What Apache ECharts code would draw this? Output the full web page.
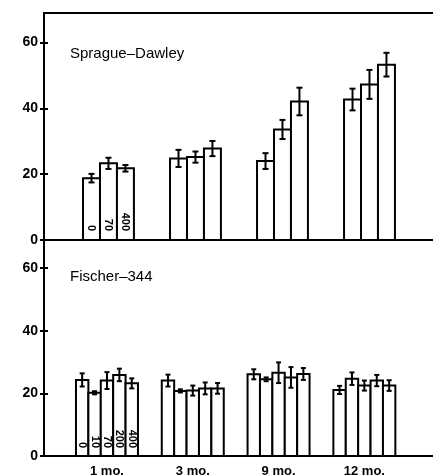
<!DOCTYPE html>
<html>
<head>
<meta charset="utf-8">
<script src="https://cdn.jsdelivr.net/npm/echarts@6/dist/echarts.min.js"></script>
<style>
	html, body { margin: 0; padding: 0; background: #fff; }
	#chart { width: 433px; height: 476px; }
</style>
</head>
<body>
<div id="chart"></div>
<script>
var months = ["1 mo.", "3 mo.", "9 mo.", "12 mo."];
var yTicks = [0, 20, 40, 60];

// Sprague-Dawley, doses 0 / 70 / 400
var sdDoses = ["0", "70", "400"];
var sdMeans = [
	[18.8, 23.3, 21.8],
	[24.8, 25.2, 27.8],
	[24.0, 33.6, 42.1],
	[42.7, 47.3, 53.3]
];
var sdErrors = [
	[1.3, 1.7, 1.0],
	[2.6, 1.7, 2.3],
	[2.4, 2.9, 4.2],
	[3.3, 4.4, 3.6]
];

// Fischer-344, doses 0 / 10 / 70 / 200 / 400
var fDoses = ["0", "10", "70", "200", "400"];
var fMeans = [
	[24.3, 20.2, 24.1, 25.9, 23.2],
	[24.1, 20.8, 20.9, 21.6, 21.6],
	[26.1, 24.5, 26.6, 25.1, 26.2],
	[21.1, 24.7, 22.5, 24.1, 22.5]
];
var fErrors = [
	[2.1, 0.5, 2.7, 2.0, 1.6],
	[1.9, 0.5, 1.6, 1.9, 1.7],
	[1.6, 0.6, 3.3, 3.3, 1.9],
	[1.3, 2.0, 1.6, 1.8, 1.7]
];

var FONT = "'Liberation Sans', Arial, sans-serif";

function toRows(means, errors) {
	var rows = [];
	for (var g = 0; g < means.length; g++) {
		for (var i = 0; i < means[g].length; i++) {
			rows.push([g + 1, i, means[g][i], errors[g][i]]);
		}
	}
	return rows;
}

function barRenderer(barW, doses, capPx, labelLift) {
	var n = doses.length;
	return function (params, api) {
		var g = api.value(0);
		var i = api.value(1);
		var v = api.value(2);
		var e = api.value(3);
		var cx = g + (i - (n - 1) / 2) * barW;

		var base = api.coord([cx - barW / 2, 0]);
		var topRight = api.coord([cx + barW / 2, v]);
		var mid = api.coord([cx, v]);
		var hi = api.coord([cx, v + e]);
		var lo = api.coord([cx, v - e]);

		var children = [
			{
				type: "rect",
				shape: { x: base[0], y: topRight[1], width: topRight[0] - base[0], height: base[1] - topRight[1] },
				style: { fill: "#fff", stroke: "#000", lineWidth: 2 }
			},
			{
				type: "line",
				shape: { x1: mid[0], y1: hi[1], x2: mid[0], y2: lo[1] },
				style: { stroke: "#000", lineWidth: 2 }
			},
			{
				type: "line",
				shape: { x1: mid[0] - capPx, y1: hi[1], x2: mid[0] + capPx, y2: hi[1] },
				style: { stroke: "#000", lineWidth: 2 }
			},
			{
				type: "line",
				shape: { x1: mid[0] - capPx, y1: lo[1], x2: mid[0] + capPx, y2: lo[1] },
				style: { stroke: "#000", lineWidth: 2 }
			}
		];

		// dose labels only inside the first group
		if (g == 1) {
			children.push({
				type: "text",
				x: mid[0],
				y: base[1] - labelLift,
				rotation: -Math.PI / 2,
				style: {
					text: doses[i],
					fontFamily: FONT,
					fontSize: 11,
					fontWeight: "bold",
					fill: "#000",
					align: "right",
					verticalAlign: "middle"
				}
			});
		}
		return { type: "group", children: children };
	};
}

var chart = echarts.init(document.getElementById("chart"));

var lineStyle = { color: "#000", width: 2 };

// y axis pair per grid: one with outward ticks and labels, one with inward ticks
function yAxisPair(gridIndex) {
	return [
		{
			gridIndex: gridIndex, type: "value", position: "left", min: 0, max: 69,
			axisLine: { onZero: false, lineStyle: lineStyle },
			axisTick: { customValues: yTicks, length: 4, lineStyle: lineStyle },
			axisLabel: { customValues: yTicks, margin: 6, fontFamily: FONT, fontSize: 14, fontWeight: "bold", color: "#000" },
			splitLine: { show: false }
		},
		{
			gridIndex: gridIndex, type: "value", position: "left", min: 0, max: 69,
			axisLine: { show: true, onZero: false, lineStyle: lineStyle },
			axisTick: { show: true, customValues: yTicks, inside: true, length: 4, lineStyle: lineStyle },
			axisLabel: { show: false },
			splitLine: { show: false }
		}
	];
}

var option = {
	animation: false,
	backgroundColor: "#fff",
	title: [
		{
			text: "Sprague–Dawley",
			left: 65, top: 41,
			textStyle: { fontFamily: FONT, fontSize: 15, fontWeight: "normal", color: "#000" }
		},
		{
			text: "Fischer–344",
			left: 65, top: 264,
			textStyle: { fontFamily: FONT, fontSize: 15, fontWeight: "normal", color: "#000" }
		}
	],
	grid: [
		{ left: 44, top: 13, right: 0, height: 227, outerBoundsMode: "none" },
		{ left: 44, top: 240, right: 0, height: 216, outerBoundsMode: "none" }
	],
	xAxis: [
		{
			gridIndex: 0, type: "value", min: 0.259, max: 4.73,
			axisLine: { onZero: false, lineStyle: lineStyle }, axisTick: { show: false },
			axisLabel: { show: false }, splitLine: { show: false }
		},
		{
			gridIndex: 0, type: "value", position: "top", min: 0.259, max: 4.73,
			axisLine: { onZero: false, lineStyle: lineStyle }, axisTick: { show: false },
			axisLabel: { show: false }, splitLine: { show: false }
		},
		{
			gridIndex: 1, type: "value", min: 0.266, max: 4.80,
			axisLine: { onZero: false, lineStyle: lineStyle }, axisTick: { show: false },
			axisLabel: {
				customValues: [1, 2, 3, 4],
				formatter: function (v) {
					return months[Math.round(v) - 1];
				},
				margin: 9,
				fontFamily: FONT, fontSize: 13, fontWeight: "bold", color: "#000"
			},
			splitLine: { show: false }
		}
	],
	yAxis: yAxisPair(0).concat(yAxisPair(1)),
	series: [
		{
			type: "custom",
			xAxisIndex: 0,
			yAxisIndex: 0,
			renderItem: barRenderer(0.195, sdDoses, 3, 9),
			data: toRows(sdMeans, sdErrors)
		},
		{
			type: "custom",
			xAxisIndex: 2,
			yAxisIndex: 2,
			renderItem: barRenderer(0.1445, fDoses, 2.5, 8),
			data: toRows(fMeans, fErrors)
		}
	]
};

chart.setOption(option);
</script>
</body>
</html>
